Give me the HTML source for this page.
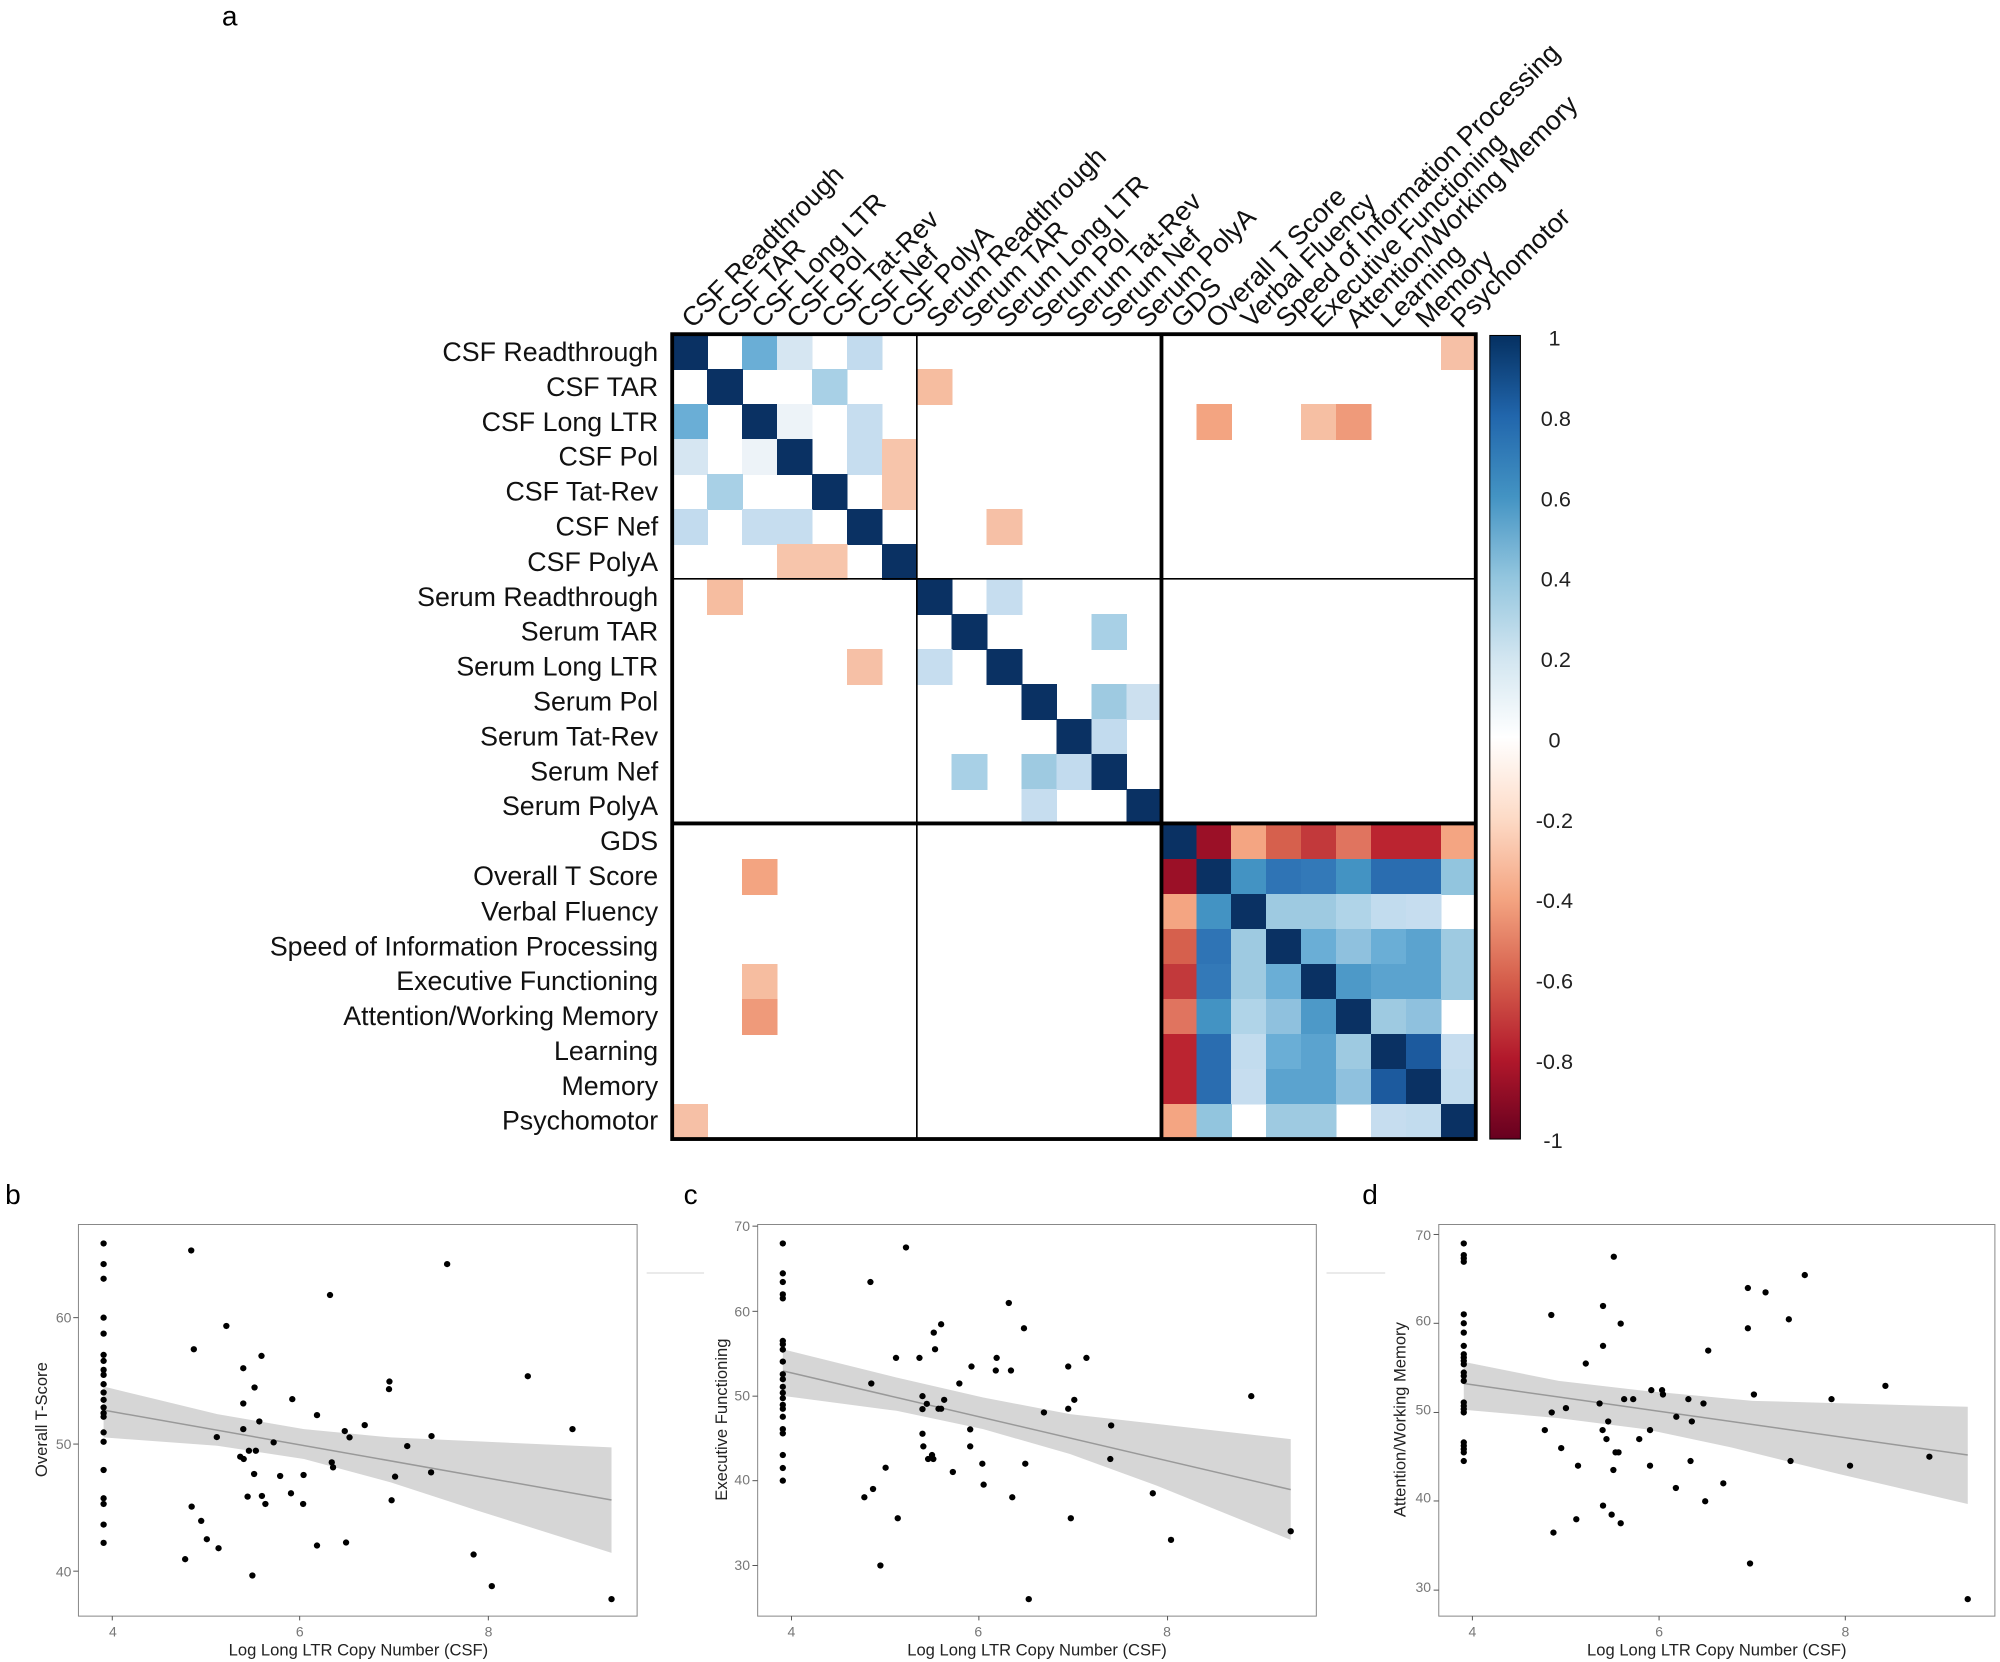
<!DOCTYPE html>
<html><head><meta charset="utf-8"><style>
html,body{margin:0;padding:0;background:#fff;}
svg{display:block;}
text{font-family:"Liberation Sans",Arial,sans-serif;}
</style></head><body>
<svg width="2000" height="1662" viewBox="0 0 1568 1303" xmlns="http://www.w3.org/2000/svg">
<defs>
<linearGradient id="rb" x1="0" y1="0" x2="0" y2="1">
<stop offset="0" stop-color="#053061"/><stop offset="0.1" stop-color="#2166ac"/><stop offset="0.2" stop-color="#4393c3"/><stop offset="0.3" stop-color="#92c5de"/><stop offset="0.4" stop-color="#d1e5f0"/><stop offset="0.5" stop-color="#ffffff"/><stop offset="0.6" stop-color="#fddbc7"/><stop offset="0.7" stop-color="#f4a582"/><stop offset="0.8" stop-color="#d6604d"/><stop offset="0.9" stop-color="#b2182b"/><stop offset="1" stop-color="#67001f"/>
</linearGradient>
</defs>
<rect width="1568" height="1303" fill="#fff"/>
<text x="174" y="20" font-size="22">a</text>

<svg x="527" y="262" width="630" height="631" viewBox="0 0 23 23" preserveAspectRatio="none">
<g shape-rendering="crispEdges">
<rect x="0" y="0" width="1.02" height="1.02" fill="#0a3163"/><rect x="2" y="0" width="1.02" height="1.02" fill="#6aaed6"/><rect x="3" y="0" width="1.02" height="1.02" fill="#d6e6f2"/><rect x="5" y="0" width="1.02" height="1.02" fill="#c2dbee"/><rect x="22" y="0" width="1.02" height="1.02" fill="#f6c0a6"/>
<rect x="1" y="1" width="1.02" height="1.02" fill="#0a3163"/><rect x="4" y="1" width="1.02" height="1.02" fill="#a8d0e6"/><rect x="7" y="1" width="1.02" height="1.02" fill="#f6bda0"/>
<rect x="0" y="2" width="1.02" height="1.02" fill="#6aaed6"/><rect x="2" y="2" width="1.02" height="1.02" fill="#0a3163"/><rect x="3" y="2" width="1.02" height="1.02" fill="#edf3f8"/><rect x="5" y="2" width="1.02" height="1.02" fill="#c6ddef"/><rect x="15" y="2" width="1.02" height="1.02" fill="#f3a481"/><rect x="18" y="2" width="1.02" height="1.02" fill="#f6bfa3"/><rect x="19" y="2" width="1.02" height="1.02" fill="#ef9a7a"/>
<rect x="0" y="3" width="1.02" height="1.02" fill="#d6e6f2"/><rect x="2" y="3" width="1.02" height="1.02" fill="#edf3f8"/><rect x="3" y="3" width="1.02" height="1.02" fill="#0a3163"/><rect x="5" y="3" width="1.02" height="1.02" fill="#c6ddef"/><rect x="6" y="3" width="1.02" height="1.02" fill="#f7c5ab"/>
<rect x="1" y="4" width="1.02" height="1.02" fill="#a8d0e6"/><rect x="4" y="4" width="1.02" height="1.02" fill="#0a3163"/><rect x="6" y="4" width="1.02" height="1.02" fill="#f7c5ab"/>
<rect x="0" y="5" width="1.02" height="1.02" fill="#c2dbee"/><rect x="2" y="5" width="1.02" height="1.02" fill="#c6ddef"/><rect x="3" y="5" width="1.02" height="1.02" fill="#c6ddef"/><rect x="5" y="5" width="1.02" height="1.02" fill="#0a3163"/><rect x="9" y="5" width="1.02" height="1.02" fill="#f6c0a6"/>
<rect x="3" y="6" width="1.02" height="1.02" fill="#f7c5ab"/><rect x="4" y="6" width="1.02" height="1.02" fill="#f7c5ab"/><rect x="6" y="6" width="1.02" height="1.02" fill="#0a3163"/>
<rect x="1" y="7" width="1.02" height="1.02" fill="#f6bda0"/><rect x="7" y="7" width="1.02" height="1.02" fill="#0a3163"/><rect x="9" y="7" width="1.02" height="1.02" fill="#c6ddef"/>
<rect x="8" y="8" width="1.02" height="1.02" fill="#0a3163"/><rect x="12" y="8" width="1.02" height="1.02" fill="#a8d0e6"/>
<rect x="5" y="9" width="1.02" height="1.02" fill="#f6c0a6"/><rect x="7" y="9" width="1.02" height="1.02" fill="#c6ddef"/><rect x="9" y="9" width="1.02" height="1.02" fill="#0a3163"/>
<rect x="10" y="10" width="1.02" height="1.02" fill="#0a3163"/><rect x="12" y="10" width="1.02" height="1.02" fill="#9ecae1"/><rect x="13" y="10" width="1.02" height="1.02" fill="#cce0ef"/>
<rect x="11" y="11" width="1.02" height="1.02" fill="#0a3163"/><rect x="12" y="11" width="1.02" height="1.02" fill="#c2dbee"/>
<rect x="8" y="12" width="1.02" height="1.02" fill="#a8d0e6"/><rect x="10" y="12" width="1.02" height="1.02" fill="#9ecae1"/><rect x="11" y="12" width="1.02" height="1.02" fill="#c2dbee"/><rect x="12" y="12" width="1.02" height="1.02" fill="#0a3163"/>
<rect x="10" y="13" width="1.02" height="1.02" fill="#c6ddef"/><rect x="13" y="13" width="1.02" height="1.02" fill="#0a3163"/>
<rect x="14" y="14" width="1.02" height="1.02" fill="#0a3163"/><rect x="15" y="14" width="1.02" height="1.02" fill="#9b1027"/><rect x="16" y="14" width="1.02" height="1.02" fill="#f4a582"/><rect x="17" y="14" width="1.02" height="1.02" fill="#d6604d"/><rect x="18" y="14" width="1.02" height="1.02" fill="#c2393b"/><rect x="19" y="14" width="1.02" height="1.02" fill="#e0745f"/><rect x="20" y="14" width="1.02" height="1.02" fill="#bb2430"/><rect x="21" y="14" width="1.02" height="1.02" fill="#bb2430"/><rect x="22" y="14" width="1.02" height="1.02" fill="#f4a582"/>
<rect x="2" y="15" width="1.02" height="1.02" fill="#f3a481"/><rect x="14" y="15" width="1.02" height="1.02" fill="#9b1027"/><rect x="15" y="15" width="1.02" height="1.02" fill="#0a3163"/><rect x="16" y="15" width="1.02" height="1.02" fill="#4393c3"/><rect x="17" y="15" width="1.02" height="1.02" fill="#2f74b5"/><rect x="18" y="15" width="1.02" height="1.02" fill="#3379b8"/><rect x="19" y="15" width="1.02" height="1.02" fill="#4393c3"/><rect x="20" y="15" width="1.02" height="1.02" fill="#2a6db0"/><rect x="21" y="15" width="1.02" height="1.02" fill="#2a6db0"/><rect x="22" y="15" width="1.02" height="1.02" fill="#92c5de"/>
<rect x="14" y="16" width="1.02" height="1.02" fill="#f4a582"/><rect x="15" y="16" width="1.02" height="1.02" fill="#4393c3"/><rect x="16" y="16" width="1.02" height="1.02" fill="#0a3163"/><rect x="17" y="16" width="1.02" height="1.02" fill="#9ecae1"/><rect x="18" y="16" width="1.02" height="1.02" fill="#9ecae1"/><rect x="19" y="16" width="1.02" height="1.02" fill="#b0d4e8"/><rect x="20" y="16" width="1.02" height="1.02" fill="#c2dcee"/><rect x="21" y="16" width="1.02" height="1.02" fill="#c6ddef"/>
<rect x="14" y="17" width="1.02" height="1.02" fill="#d6604d"/><rect x="15" y="17" width="1.02" height="1.02" fill="#2f74b5"/><rect x="16" y="17" width="1.02" height="1.02" fill="#9ecae1"/><rect x="17" y="17" width="1.02" height="1.02" fill="#0a3163"/><rect x="18" y="17" width="1.02" height="1.02" fill="#6aaed6"/><rect x="19" y="17" width="1.02" height="1.02" fill="#8fc1de"/><rect x="20" y="17" width="1.02" height="1.02" fill="#6aaed6"/><rect x="21" y="17" width="1.02" height="1.02" fill="#5ba3cf"/><rect x="22" y="17" width="1.02" height="1.02" fill="#9ecae1"/>
<rect x="2" y="18" width="1.02" height="1.02" fill="#f6bda0"/><rect x="14" y="18" width="1.02" height="1.02" fill="#c2393b"/><rect x="15" y="18" width="1.02" height="1.02" fill="#3379b8"/><rect x="16" y="18" width="1.02" height="1.02" fill="#9ecae1"/><rect x="17" y="18" width="1.02" height="1.02" fill="#6aaed6"/><rect x="18" y="18" width="1.02" height="1.02" fill="#0a3163"/><rect x="19" y="18" width="1.02" height="1.02" fill="#4d99c8"/><rect x="20" y="18" width="1.02" height="1.02" fill="#5ba3cf"/><rect x="21" y="18" width="1.02" height="1.02" fill="#5ba3cf"/><rect x="22" y="18" width="1.02" height="1.02" fill="#9ecae1"/>
<rect x="2" y="19" width="1.02" height="1.02" fill="#ef9a7a"/><rect x="14" y="19" width="1.02" height="1.02" fill="#e0745f"/><rect x="15" y="19" width="1.02" height="1.02" fill="#4393c3"/><rect x="16" y="19" width="1.02" height="1.02" fill="#b0d4e8"/><rect x="17" y="19" width="1.02" height="1.02" fill="#8fc1de"/><rect x="18" y="19" width="1.02" height="1.02" fill="#4d99c8"/><rect x="19" y="19" width="1.02" height="1.02" fill="#0a3163"/><rect x="20" y="19" width="1.02" height="1.02" fill="#9ecae1"/><rect x="21" y="19" width="1.02" height="1.02" fill="#8fc1de"/>
<rect x="14" y="20" width="1.02" height="1.02" fill="#bb2430"/><rect x="15" y="20" width="1.02" height="1.02" fill="#2a6db0"/><rect x="16" y="20" width="1.02" height="1.02" fill="#c2dcee"/><rect x="17" y="20" width="1.02" height="1.02" fill="#6aaed6"/><rect x="18" y="20" width="1.02" height="1.02" fill="#5ba3cf"/><rect x="19" y="20" width="1.02" height="1.02" fill="#9ecae1"/><rect x="20" y="20" width="1.02" height="1.02" fill="#0a3163"/><rect x="21" y="20" width="1.02" height="1.02" fill="#1c5a9e"/><rect x="22" y="20" width="1.02" height="1.02" fill="#c6ddef"/>
<rect x="14" y="21" width="1.02" height="1.02" fill="#bb2430"/><rect x="15" y="21" width="1.02" height="1.02" fill="#2a6db0"/><rect x="16" y="21" width="1.02" height="1.02" fill="#c6ddef"/><rect x="17" y="21" width="1.02" height="1.02" fill="#5ba3cf"/><rect x="18" y="21" width="1.02" height="1.02" fill="#5ba3cf"/><rect x="19" y="21" width="1.02" height="1.02" fill="#8fc1de"/><rect x="20" y="21" width="1.02" height="1.02" fill="#1c5a9e"/><rect x="21" y="21" width="1.02" height="1.02" fill="#0a3163"/><rect x="22" y="21" width="1.02" height="1.02" fill="#c2dcee"/>
<rect x="0" y="22" width="1.02" height="1.02" fill="#f6c0a6"/><rect x="14" y="22" width="1.02" height="1.02" fill="#f4a582"/><rect x="15" y="22" width="1.02" height="1.02" fill="#92c5de"/><rect x="17" y="22" width="1.02" height="1.02" fill="#9ecae1"/><rect x="18" y="22" width="1.02" height="1.02" fill="#9ecae1"/><rect x="20" y="22" width="1.02" height="1.02" fill="#c6ddef"/><rect x="21" y="22" width="1.02" height="1.02" fill="#c2dcee"/><rect x="22" y="22" width="1.02" height="1.02" fill="#0a3163"/>
</g>
</svg>
<line x1="718.8" y1="262" x2="718.8" y2="893" stroke="#000" stroke-width="1.3"/>
<line x1="527" y1="453.8" x2="1157" y2="453.8" stroke="#000" stroke-width="1.3"/>
<line x1="910.6" y1="262" x2="910.6" y2="893" stroke="#000" stroke-width="3"/>
<line x1="527" y1="645.6" x2="1157" y2="645.6" stroke="#000" stroke-width="3"/>
<rect x="527" y="262" width="630" height="631" fill="none" stroke="#000" stroke-width="3"/>

<g font-size="21" text-anchor="end" fill="#111">
<text x="516" y="283">CSF Readthrough</text><text x="516" y="310.5">CSF TAR</text><text x="516" y="338">CSF Long LTR</text><text x="516" y="365">CSF Pol</text><text x="516" y="392.5">CSF Tat-Rev</text><text x="516" y="420">CSF Nef</text><text x="516" y="447.5">CSF PolyA</text><text x="516" y="475">Serum Readthrough</text><text x="516" y="502">Serum TAR</text><text x="516" y="529.5">Serum Long LTR</text><text x="516" y="557">Serum Pol</text><text x="516" y="584.5">Serum Tat-Rev</text><text x="516" y="612">Serum Nef</text><text x="516" y="639">Serum PolyA</text><text x="516" y="666.5">GDS</text><text x="516" y="694">Overall T Score</text><text x="516" y="721.5">Verbal Fluency</text><text x="516" y="749">Speed of Information Processing</text><text x="516" y="776">Executive Functioning</text><text x="516" y="803.5">Attention/Working Memory</text><text x="516" y="831">Learning</text><text x="516" y="858.5">Memory</text><text x="516" y="885.5">Psychomotor</text>
</g>
<g font-size="21" fill="#111">
<text transform="translate(543,258) rotate(-45)">CSF Readthrough</text>
<text transform="translate(570.4,258) rotate(-45)">CSF TAR</text>
<text transform="translate(597.8,258) rotate(-45)">CSF Long LTR</text>
<text transform="translate(625.2,258) rotate(-45)">CSF Pol</text>
<text transform="translate(652.6,258) rotate(-45)">CSF Tat-Rev</text>
<text transform="translate(680,258) rotate(-45)">CSF Nef</text>
<text transform="translate(707.4,258) rotate(-45)">CSF PolyA</text>
<text transform="translate(734.8,258) rotate(-45)">Serum Readthrough</text>
<text transform="translate(762.2,258) rotate(-45)">Serum TAR</text>
<text transform="translate(789.6,258) rotate(-45)">Serum Long LTR</text>
<text transform="translate(817,258) rotate(-45)">Serum Pol</text>
<text transform="translate(844.4,258) rotate(-45)">Serum Tat-Rev</text>
<text transform="translate(871.8,258) rotate(-45)">Serum Nef</text>
<text transform="translate(899.2,258) rotate(-45)">Serum PolyA</text>
<text transform="translate(926.6,258) rotate(-45)">GDS</text>
<text transform="translate(954,258) rotate(-45)">Overall T Score</text>
<text transform="translate(981.4,258) rotate(-45)">Verbal Fluency</text>
<text transform="translate(1008.8,258) rotate(-45)">Speed of Information Processing</text>
<text transform="translate(1036.2,258) rotate(-45)">Executive Functioning</text>
<text transform="translate(1063.6,258) rotate(-45)">Attention/Working Memory</text>
<text transform="translate(1091,258) rotate(-45)">Learning</text>
<text transform="translate(1118.4,258) rotate(-45)">Memory</text>
<text transform="translate(1145.8,258) rotate(-45)">Psychomotor</text>
</g>
<rect x="1168" y="263" width="24" height="630" fill="url(#rb)" stroke="#000" stroke-width="0.8"/>
<g font-size="17" fill="#222">
<text x="1214" y="271">1</text><text x="1208" y="334">0.8</text><text x="1208" y="397">0.6</text><text x="1208" y="460">0.4</text><text x="1208" y="523">0.2</text><text x="1214" y="586">0</text><text x="1204" y="649">-0.2</text><text x="1204" y="712">-0.4</text><text x="1204" y="775">-0.6</text><text x="1204" y="838">-0.8</text><text x="1210" y="900">-1</text>
</g>

<text x="4" y="944" font-size="22">b</text>
<text x="536" y="944" font-size="22">c</text>
<text x="1068" y="944" font-size="22">d</text>
<line x1="507" y1="998" x2="552" y2="998" stroke="#ddd" stroke-width="1"/>
<line x1="1040" y1="998" x2="1086" y2="998" stroke="#ddd" stroke-width="1"/>

<!-- Panel b -->
<svg x="61.5" y="960" width="438" height="307" viewBox="180 130 1288 1177" preserveAspectRatio="none" overflow="visible">
<polygon points="238,617 500,700 700,745 900,770 1409,800 1409,1117 1100,990 900,905 700,835 500,795 238,770" fill="#d6d6d6"/>
<line x1="238" y1="688" x2="1409" y2="958" stroke="#999" stroke-width="1.5" vector-effect="non-scaling-stroke"/>
<g fill="#000">
<ellipse cx="238" cy="187" rx="7.3" ry="9.4"/><ellipse cx="238" cy="249" rx="7.3" ry="9.4"/><ellipse cx="238" cy="293" rx="7.3" ry="9.4"/><ellipse cx="238" cy="410" rx="7.3" ry="9.4"/><ellipse cx="238" cy="458" rx="7.3" ry="9.4"/><ellipse cx="238" cy="522" rx="7.3" ry="9.4"/><ellipse cx="238" cy="540" rx="7.3" ry="9.4"/><ellipse cx="238" cy="567" rx="7.3" ry="9.4"/><ellipse cx="238" cy="582" rx="7.3" ry="9.4"/><ellipse cx="238" cy="610" rx="7.3" ry="9.4"/><ellipse cx="238" cy="635" rx="7.3" ry="9.4"/><ellipse cx="238" cy="657" rx="7.3" ry="9.4"/><ellipse cx="238" cy="680" rx="7.3" ry="9.4"/><ellipse cx="238" cy="697" rx="7.3" ry="9.4"/><ellipse cx="238" cy="708" rx="7.3" ry="9.4"/><ellipse cx="238" cy="755" rx="7.3" ry="9.4"/><ellipse cx="238" cy="783" rx="7.3" ry="9.4"/><ellipse cx="238" cy="868" rx="7.3" ry="9.4"/><ellipse cx="238" cy="953" rx="7.3" ry="9.4"/><ellipse cx="238" cy="970" rx="7.3" ry="9.4"/><ellipse cx="238" cy="1032" rx="7.3" ry="9.4"/><ellipse cx="238" cy="1087" rx="7.3" ry="9.4"/>
<ellipse cx="440" cy="208" rx="7.3" ry="9.4"/><ellipse cx="446" cy="505" rx="7.3" ry="9.4"/><ellipse cx="521" cy="435" rx="7.3" ry="9.4"/><ellipse cx="499" cy="769" rx="7.3" ry="9.4"/><ellipse cx="560" cy="562" rx="7.3" ry="9.4"/><ellipse cx="586" cy="620" rx="7.3" ry="9.4"/><ellipse cx="560" cy="668" rx="7.3" ry="9.4"/><ellipse cx="597" cy="722" rx="7.3" ry="9.4"/><ellipse cx="560" cy="745" rx="7.3" ry="9.4"/><ellipse cx="602" cy="525" rx="7.3" ry="9.4"/><ellipse cx="630" cy="785" rx="7.3" ry="9.4"/><ellipse cx="553" cy="828" rx="7.3" ry="9.4"/><ellipse cx="561" cy="835" rx="7.3" ry="9.4"/><ellipse cx="573" cy="810" rx="7.3" ry="9.4"/><ellipse cx="589" cy="810" rx="7.3" ry="9.4"/><ellipse cx="585" cy="880" rx="7.3" ry="9.4"/><ellipse cx="645" cy="886" rx="7.3" ry="9.4"/><ellipse cx="603" cy="946" rx="7.3" ry="9.4"/><ellipse cx="611" cy="970" rx="7.3" ry="9.4"/><ellipse cx="570" cy="948" rx="7.3" ry="9.4"/><ellipse cx="670" cy="938" rx="7.3" ry="9.4"/><ellipse cx="673" cy="655" rx="7.3" ry="9.4"/><ellipse cx="699" cy="883" rx="7.3" ry="9.4"/><ellipse cx="698" cy="970" rx="7.3" ry="9.4"/><ellipse cx="730" cy="703" rx="7.3" ry="9.4"/><ellipse cx="760" cy="342" rx="7.3" ry="9.4"/><ellipse cx="764" cy="845" rx="7.3" ry="9.4"/><ellipse cx="767" cy="860" rx="7.3" ry="9.4"/><ellipse cx="794" cy="751" rx="7.3" ry="9.4"/><ellipse cx="805" cy="770" rx="7.3" ry="9.4"/><ellipse cx="840" cy="733" rx="7.3" ry="9.4"/><ellipse cx="1030" cy="249" rx="7.3" ry="9.4"/><ellipse cx="897" cy="602" rx="7.3" ry="9.4"/><ellipse cx="896" cy="625" rx="7.3" ry="9.4"/><ellipse cx="938" cy="796" rx="7.3" ry="9.4"/><ellipse cx="910" cy="888" rx="7.3" ry="9.4"/><ellipse cx="902" cy="959" rx="7.3" ry="9.4"/><ellipse cx="994" cy="766" rx="7.3" ry="9.4"/><ellipse cx="993" cy="875" rx="7.3" ry="9.4"/><ellipse cx="1216" cy="586" rx="7.3" ry="9.4"/><ellipse cx="1319" cy="745" rx="7.3" ry="9.4"/><ellipse cx="441" cy="978" rx="7.3" ry="9.4"/><ellipse cx="463" cy="1021" rx="7.3" ry="9.4"/><ellipse cx="476" cy="1076" rx="7.3" ry="9.4"/><ellipse cx="503" cy="1103" rx="7.3" ry="9.4"/><ellipse cx="426" cy="1136" rx="7.3" ry="9.4"/><ellipse cx="581" cy="1185" rx="7.3" ry="9.4"/><ellipse cx="730" cy="1095" rx="7.3" ry="9.4"/><ellipse cx="797" cy="1086" rx="7.3" ry="9.4"/><ellipse cx="1091" cy="1122" rx="7.3" ry="9.4"/><ellipse cx="1133" cy="1217" rx="7.3" ry="9.4"/><ellipse cx="1409" cy="1256" rx="7.3" ry="9.4"/>
</g>
<rect x="180" y="130" width="1288" height="1177" fill="none" stroke="#888" stroke-width="1" vector-effect="non-scaling-stroke"/>
<g stroke="#555">
<line x1="168" y1="410" x2="180" y2="410" vector-effect="non-scaling-stroke"/><line x1="168" y1="790" x2="180" y2="790" vector-effect="non-scaling-stroke"/><line x1="168" y1="1172" x2="180" y2="1172" vector-effect="non-scaling-stroke"/>
<line x1="258" y1="1307" x2="258" y2="1320" vector-effect="non-scaling-stroke"/><line x1="690" y1="1307" x2="690" y2="1320" vector-effect="non-scaling-stroke"/><line x1="1125" y1="1307" x2="1125" y2="1320" vector-effect="non-scaling-stroke"/>
</g>
</svg>
<g font-size="11" fill="#777">
<text x="56" y="1037" text-anchor="end">60</text><text x="56" y="1136" text-anchor="end">50</text><text x="56" y="1236" text-anchor="end">40</text>
<text x="88.5" y="1283" text-anchor="middle">4</text><text x="235" y="1283" text-anchor="middle">6</text><text x="383" y="1283" text-anchor="middle">8</text>
</g>
<text x="281" y="1298" font-size="13" text-anchor="middle" fill="#222">Log Long LTR Copy Number (CSF)</text>
<text transform="translate(37,1113) rotate(-90)" font-size="13" text-anchor="middle" fill="#222">Overall T-Score</text>

<!-- Panel c -->
<svg x="594" y="960" width="438" height="307" viewBox="180 130 1288 1177" preserveAspectRatio="none" overflow="visible">
<polygon points="238,505 500,590 700,650 900,700 1409,775 1409,1078 1100,915 900,820 700,745 500,690 238,645" fill="#d6d6d6"/>
<line x1="238" y1="570" x2="1409" y2="927" stroke="#999" stroke-width="1.5" vector-effect="non-scaling-stroke"/>
<g fill="#000">
<ellipse cx="238" cy="187" rx="7.3" ry="9.4"/><ellipse cx="238" cy="277" rx="7.3" ry="9.4"/><ellipse cx="238" cy="303" rx="7.3" ry="9.4"/><ellipse cx="238" cy="340" rx="7.3" ry="9.4"/><ellipse cx="238" cy="352" rx="7.3" ry="9.4"/><ellipse cx="238" cy="480" rx="7.3" ry="9.4"/><ellipse cx="238" cy="490" rx="7.3" ry="9.4"/><ellipse cx="238" cy="506" rx="7.3" ry="9.4"/><ellipse cx="238" cy="542" rx="7.3" ry="9.4"/><ellipse cx="238" cy="580" rx="7.3" ry="9.4"/><ellipse cx="238" cy="595" rx="7.3" ry="9.4"/><ellipse cx="238" cy="618" rx="7.3" ry="9.4"/><ellipse cx="238" cy="636" rx="7.3" ry="9.4"/><ellipse cx="238" cy="652" rx="7.3" ry="9.4"/><ellipse cx="238" cy="672" rx="7.3" ry="9.4"/><ellipse cx="238" cy="684" rx="7.3" ry="9.4"/><ellipse cx="238" cy="708" rx="7.3" ry="9.4"/><ellipse cx="238" cy="745" rx="7.3" ry="9.4"/><ellipse cx="238" cy="758" rx="7.3" ry="9.4"/><ellipse cx="238" cy="823" rx="7.3" ry="9.4"/><ellipse cx="238" cy="862" rx="7.3" ry="9.4"/><ellipse cx="238" cy="900" rx="7.3" ry="9.4"/>
<ellipse cx="522" cy="199" rx="7.3" ry="9.4"/><ellipse cx="440" cy="303" rx="7.3" ry="9.4"/><ellipse cx="759" cy="366" rx="7.3" ry="9.4"/><ellipse cx="603" cy="430" rx="7.3" ry="9.4"/><ellipse cx="586" cy="455" rx="7.3" ry="9.4"/><ellipse cx="794" cy="442" rx="7.3" ry="9.4"/><ellipse cx="589" cy="505" rx="7.3" ry="9.4"/><ellipse cx="499" cy="531" rx="7.3" ry="9.4"/><ellipse cx="553" cy="531" rx="7.3" ry="9.4"/><ellipse cx="731" cy="531" rx="7.3" ry="9.4"/><ellipse cx="938" cy="531" rx="7.3" ry="9.4"/><ellipse cx="673" cy="557" rx="7.3" ry="9.4"/><ellipse cx="729" cy="569" rx="7.3" ry="9.4"/><ellipse cx="764" cy="569" rx="7.3" ry="9.4"/><ellipse cx="896" cy="557" rx="7.3" ry="9.4"/><ellipse cx="442" cy="608" rx="7.3" ry="9.4"/><ellipse cx="645" cy="608" rx="7.3" ry="9.4"/><ellipse cx="560" cy="646" rx="7.3" ry="9.4"/><ellipse cx="570" cy="669" rx="7.3" ry="9.4"/><ellipse cx="610" cy="657" rx="7.3" ry="9.4"/><ellipse cx="560" cy="685" rx="7.3" ry="9.4"/><ellipse cx="597" cy="684" rx="7.3" ry="9.4"/><ellipse cx="603" cy="684" rx="7.3" ry="9.4"/><ellipse cx="840" cy="695" rx="7.3" ry="9.4"/><ellipse cx="896" cy="684" rx="7.3" ry="9.4"/><ellipse cx="910" cy="657" rx="7.3" ry="9.4"/><ellipse cx="670" cy="746" rx="7.3" ry="9.4"/><ellipse cx="560" cy="759" rx="7.3" ry="9.4"/><ellipse cx="995" cy="734" rx="7.3" ry="9.4"/><ellipse cx="670" cy="797" rx="7.3" ry="9.4"/><ellipse cx="562" cy="797" rx="7.3" ry="9.4"/><ellipse cx="582" cy="823" rx="7.3" ry="9.4"/><ellipse cx="573" cy="835" rx="7.3" ry="9.4"/><ellipse cx="585" cy="835" rx="7.3" ry="9.4"/><ellipse cx="993" cy="835" rx="7.3" ry="9.4"/><ellipse cx="698" cy="849" rx="7.3" ry="9.4"/><ellipse cx="797" cy="849" rx="7.3" ry="9.4"/><ellipse cx="475" cy="861" rx="7.3" ry="9.4"/><ellipse cx="630" cy="874" rx="7.3" ry="9.4"/><ellipse cx="701" cy="912" rx="7.3" ry="9.4"/><ellipse cx="446" cy="925" rx="7.3" ry="9.4"/><ellipse cx="426" cy="950" rx="7.3" ry="9.4"/><ellipse cx="767" cy="950" rx="7.3" ry="9.4"/><ellipse cx="1091" cy="938" rx="7.3" ry="9.4"/><ellipse cx="503" cy="1013" rx="7.3" ry="9.4"/><ellipse cx="902" cy="1013" rx="7.3" ry="9.4"/><ellipse cx="1133" cy="1078" rx="7.3" ry="9.4"/><ellipse cx="1409" cy="1052" rx="7.3" ry="9.4"/><ellipse cx="463" cy="1155" rx="7.3" ry="9.4"/><ellipse cx="805" cy="1256" rx="7.3" ry="9.4"/><ellipse cx="1318" cy="646" rx="7.3" ry="9.4"/>
</g>
<rect x="180" y="130" width="1288" height="1177" fill="none" stroke="#888" stroke-width="1" vector-effect="non-scaling-stroke"/>
<g stroke="#555">
<line x1="168" y1="135" x2="180" y2="135" vector-effect="non-scaling-stroke"/><line x1="168" y1="391" x2="180" y2="391" vector-effect="non-scaling-stroke"/><line x1="168" y1="646" x2="180" y2="646" vector-effect="non-scaling-stroke"/><line x1="168" y1="900" x2="180" y2="900" vector-effect="non-scaling-stroke"/><line x1="168" y1="1155" x2="180" y2="1155" vector-effect="non-scaling-stroke"/>
<line x1="258" y1="1307" x2="258" y2="1320" vector-effect="non-scaling-stroke"/><line x1="690" y1="1307" x2="690" y2="1320" vector-effect="non-scaling-stroke"/><line x1="1125" y1="1307" x2="1125" y2="1320" vector-effect="non-scaling-stroke"/>
</g>
</svg>
<g font-size="11" fill="#777" text-anchor="end">
<text x="588" y="965">70</text><text x="588" y="1032">60</text><text x="588" y="1098">50</text><text x="588" y="1164">40</text><text x="588" y="1231">30</text>
</g>
<g font-size="11" fill="#777" text-anchor="middle">
<text x="620.5" y="1283">4</text><text x="767" y="1283">6</text><text x="915" y="1283">8</text>
</g>
<text x="813" y="1298" font-size="13" text-anchor="middle" fill="#222">Log Long LTR Copy Number (CSF)</text>
<text transform="translate(570,1113) rotate(-90)" font-size="13" text-anchor="middle" fill="#222">Executive Functioning</text>

<!-- Panel d -->
<svg x="1128" y="960" width="436" height="307" viewBox="272 130 1290 1177" preserveAspectRatio="none" overflow="visible">
<polygon points="330,543 550,600 750,630 1000,660 1499,678 1499,970 1200,880 950,800 750,745 550,712 330,687" fill="#d6d6d6"/>
<line x1="330" y1="608" x2="1499" y2="823" stroke="#999" stroke-width="1.5" vector-effect="non-scaling-stroke"/>
<g fill="#000">
<ellipse cx="330" cy="187" rx="7.3" ry="9.4"/><ellipse cx="330" cy="222" rx="7.3" ry="9.4"/><ellipse cx="330" cy="232" rx="7.3" ry="9.4"/><ellipse cx="330" cy="242" rx="7.3" ry="9.4"/><ellipse cx="330" cy="400" rx="7.3" ry="9.4"/><ellipse cx="330" cy="427" rx="7.3" ry="9.4"/><ellipse cx="330" cy="455" rx="7.3" ry="9.4"/><ellipse cx="330" cy="495" rx="7.3" ry="9.4"/><ellipse cx="330" cy="520" rx="7.3" ry="9.4"/><ellipse cx="330" cy="530" rx="7.3" ry="9.4"/><ellipse cx="330" cy="540" rx="7.3" ry="9.4"/><ellipse cx="330" cy="550" rx="7.3" ry="9.4"/><ellipse cx="330" cy="575" rx="7.3" ry="9.4"/><ellipse cx="330" cy="585" rx="7.3" ry="9.4"/><ellipse cx="330" cy="600" rx="7.3" ry="9.4"/><ellipse cx="330" cy="665" rx="7.3" ry="9.4"/><ellipse cx="330" cy="675" rx="7.3" ry="9.4"/><ellipse cx="330" cy="685" rx="7.3" ry="9.4"/><ellipse cx="330" cy="695" rx="7.3" ry="9.4"/><ellipse cx="330" cy="785" rx="7.3" ry="9.4"/><ellipse cx="330" cy="795" rx="7.3" ry="9.4"/><ellipse cx="330" cy="805" rx="7.3" ry="9.4"/><ellipse cx="330" cy="815" rx="7.3" ry="9.4"/><ellipse cx="330" cy="841" rx="7.3" ry="9.4"/>
<ellipse cx="678" cy="227" rx="7.3" ry="9.4"/><ellipse cx="1121" cy="282" rx="7.3" ry="9.4"/><ellipse cx="989" cy="321" rx="7.3" ry="9.4"/><ellipse cx="1030" cy="334" rx="7.3" ry="9.4"/><ellipse cx="653" cy="375" rx="7.3" ry="9.4"/><ellipse cx="533" cy="402" rx="7.3" ry="9.4"/><ellipse cx="1084" cy="415" rx="7.3" ry="9.4"/><ellipse cx="694" cy="428" rx="7.3" ry="9.4"/><ellipse cx="989" cy="442" rx="7.3" ry="9.4"/><ellipse cx="653" cy="495" rx="7.3" ry="9.4"/><ellipse cx="897" cy="509" rx="7.3" ry="9.4"/><ellipse cx="613" cy="548" rx="7.3" ry="9.4"/><ellipse cx="1308" cy="615" rx="7.3" ry="9.4"/><ellipse cx="765" cy="628" rx="7.3" ry="9.4"/><ellipse cx="790" cy="628" rx="7.3" ry="9.4"/><ellipse cx="792" cy="641" rx="7.3" ry="9.4"/><ellipse cx="1003" cy="641" rx="7.3" ry="9.4"/><ellipse cx="702" cy="655" rx="7.3" ry="9.4"/><ellipse cx="723" cy="655" rx="7.3" ry="9.4"/><ellipse cx="851" cy="655" rx="7.3" ry="9.4"/><ellipse cx="1183" cy="655" rx="7.3" ry="9.4"/><ellipse cx="645" cy="668" rx="7.3" ry="9.4"/><ellipse cx="886" cy="668" rx="7.3" ry="9.4"/><ellipse cx="567" cy="682" rx="7.3" ry="9.4"/><ellipse cx="534" cy="695" rx="7.3" ry="9.4"/><ellipse cx="823" cy="708" rx="7.3" ry="9.4"/><ellipse cx="665" cy="722" rx="7.3" ry="9.4"/><ellipse cx="859" cy="722" rx="7.3" ry="9.4"/><ellipse cx="518" cy="748" rx="7.3" ry="9.4"/><ellipse cx="652" cy="748" rx="7.3" ry="9.4"/><ellipse cx="762" cy="748" rx="7.3" ry="9.4"/><ellipse cx="661" cy="775" rx="7.3" ry="9.4"/><ellipse cx="737" cy="775" rx="7.3" ry="9.4"/><ellipse cx="682" cy="815" rx="7.3" ry="9.4"/><ellipse cx="689" cy="815" rx="7.3" ry="9.4"/><ellipse cx="1410" cy="828" rx="7.3" ry="9.4"/><ellipse cx="556" cy="802" rx="7.3" ry="9.4"/><ellipse cx="595" cy="855" rx="7.3" ry="9.4"/><ellipse cx="762" cy="855" rx="7.3" ry="9.4"/><ellipse cx="677" cy="868" rx="7.3" ry="9.4"/><ellipse cx="856" cy="841" rx="7.3" ry="9.4"/><ellipse cx="1088" cy="841" rx="7.3" ry="9.4"/><ellipse cx="1226" cy="855" rx="7.3" ry="9.4"/><ellipse cx="932" cy="908" rx="7.3" ry="9.4"/><ellipse cx="822" cy="922" rx="7.3" ry="9.4"/><ellipse cx="890" cy="962" rx="7.3" ry="9.4"/><ellipse cx="653" cy="975" rx="7.3" ry="9.4"/><ellipse cx="673" cy="1002" rx="7.3" ry="9.4"/><ellipse cx="591" cy="1016" rx="7.3" ry="9.4"/><ellipse cx="694" cy="1028" rx="7.3" ry="9.4"/><ellipse cx="538" cy="1056" rx="7.3" ry="9.4"/><ellipse cx="994" cy="1149" rx="7.3" ry="9.4"/><ellipse cx="1499" cy="1256" rx="7.3" ry="9.4"/>
</g>
<rect x="272" y="130" width="1290" height="1177" fill="none" stroke="#888" stroke-width="1" vector-effect="non-scaling-stroke"/>
<g stroke="#555">
<line x1="260" y1="160" x2="272" y2="160" vector-effect="non-scaling-stroke"/><line x1="260" y1="427" x2="272" y2="427" vector-effect="non-scaling-stroke"/><line x1="260" y1="695" x2="272" y2="695" vector-effect="non-scaling-stroke"/><line x1="260" y1="961" x2="272" y2="961" vector-effect="non-scaling-stroke"/><line x1="260" y1="1229" x2="272" y2="1229" vector-effect="non-scaling-stroke"/>
<line x1="350" y1="1307" x2="350" y2="1320" vector-effect="non-scaling-stroke"/><line x1="783" y1="1307" x2="783" y2="1320" vector-effect="non-scaling-stroke"/><line x1="1215" y1="1307" x2="1215" y2="1320" vector-effect="non-scaling-stroke"/>
</g>
</svg>
<g font-size="11" fill="#777" text-anchor="end">
<text x="1122" y="972">70</text><text x="1122" y="1039">60</text><text x="1122" y="1109">50</text><text x="1122" y="1178">40</text><text x="1122" y="1248">30</text>
</g>
<g font-size="11" fill="#777" text-anchor="middle">
<text x="1154.4" y="1283">4</text><text x="1300.8" y="1283">6</text><text x="1446.8" y="1283">8</text>
</g>
<text x="1346" y="1298" font-size="13" text-anchor="middle" fill="#222">Log Long LTR Copy Number (CSF)</text>
<text transform="translate(1102,1113) rotate(-90)" font-size="13" text-anchor="middle" fill="#222">Attention/Working Memory</text>
</svg>
</body></html>
